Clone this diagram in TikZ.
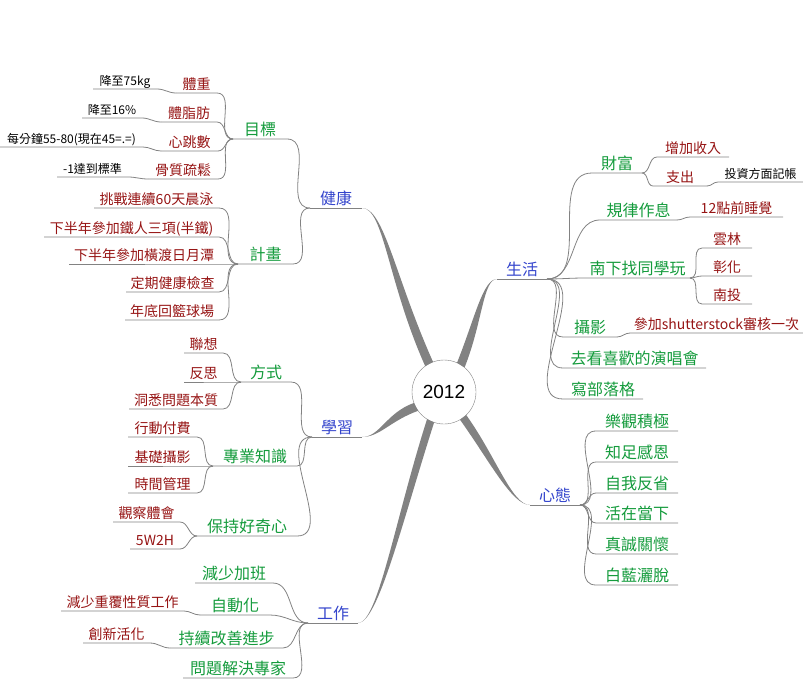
\documentclass[tikz,border=0pt]{standalone}
\usepackage{fontspec}
\newfontfamily\cjk{Noto Sans CJK TC}
\newfontfamily\numfont{Liberation Sans}
\definecolor{mapblue}{RGB}{51,68,204}
\definecolor{mapgreen}{RGB}{20,155,60}
\definecolor{mapred}{RGB}{150,20,20}
\definecolor{mapgray}{RGB}{130,130,130}

\begin{document}
\begin{tikzpicture}[x=1pt, y=-1pt,
    every node/.style={anchor=south west, inner xsep=0pt, inner ysep=1pt, text depth=3pt, outer sep=0pt},
    topic/.style={text=mapblue, font=\cjk\fontsize{16}{18}\selectfont},
    sub/.style={text=mapgreen, font=\cjk\fontsize{16}{18}\selectfont},
    item/.style={text=mapred, font=\cjk\fontsize{14}{16}\selectfont},
    note/.style={text=black, font=\cjk\fontsize{12}{14}\selectfont},
    link/.style={draw=mapgray, line width=0.8pt},
    branch/.style={fill=mapgray}]
                    \useasboundingbox (0,0) rectangle (803,680);

                    % Centre
                    \node[draw=mapgray, circle, fill=white, minimum size=64pt, inner sep=0pt, text depth=0pt, anchor=center, font=\numfont\fontsize{19}{21}\selectfont] (root) at (444,392) {2012};

                    % Main topics
                    \node[topic, minimum width=52pt] (health) at (310,208) {健康};
                    \node[topic, minimum width=50pt] (life) at (497,279) {生活};
                    \node[topic, minimum width=50pt] (study) at (312,437) {學習};
                    \node[topic, minimum width=50pt] (work) at (308,623) {工作};
                    \node[topic, minimum width=50pt] (mind) at (530,505) {心態};

                    % Health
                    \node[sub, minimum width=54pt] (goal) at (233,139) {目標};
                    \node[sub, minimum width=55pt] (plan) at (238,264) {計畫};
                    \node[item, minimum width=41pt] (weight) at (176,93) {體重};
                    \node[item, minimum width=56pt] (fat) at (161,122) {體脂肪};
                    \node[item, minimum width=57pt] (heart) at (161,151) {心跳數};
                    \node[item, minimum width=70pt] (bone) at (148,179) {骨質疏鬆};
                    \node[note, minimum width=64pt] (weightgoal) at (93,89) {降至75kg};
                    \node[note, minimum width=60pt] (fatgoal) at (82,118) {降至16\%};
                    \node[note, minimum width=143pt] (heartgoal) at (0,147) {每分鐘55-80(現在45=.=)};
                    \node[note, minimum width=71pt] (bonegoal) at (57,177) {-1達到標準};
                    \node[item, minimum width=125pt] (swim) at (94,208) {挑戰連續60天晨泳};
                    \node[item, minimum width=175pt] (triathlon) at (44,237) {下半年參加鐵人三項(半鐵)};
                    \node[item, minimum width=150pt] (lake) at (69,264) {下半年參加橫渡日月潭};
                    \node[item, minimum width=93pt] (checkup) at (126,292) {定期健康檢查};
                    \node[item, minimum width=94pt] (court) at (125,320) {年底回籃球場};

                    % Study
                    \node[sub, minimum width=50pt] (method) at (241,382) {方式};
                    \node[sub, minimum width=84pt] (skill) at (213,466) {專業知識};
                    \node[sub, minimum width=100pt] (curious) at (197,536) {保持好奇心};
                    \node[item, minimum width=39pt] (associate) at (184,353) {聯想};
                    \node[item, minimum width=39pt] (reflect) at (184,382) {反思};
                    \node[item, minimum width=94pt] (insight) at (129,409) {洞悉問題本質};
                    \node[item, minimum width=69pt] (paid) at (128,437) {行動付費};
                    \node[item, minimum width=69pt] (photobasic) at (128,466) {基礎攝影};
                    \node[item, minimum width=69pt] (timemgmt) at (128,493) {時間管理};
                    \node[item, minimum width=67pt] (observe) at (113,522) {觀察體會};
                    \node[item, minimum width=50pt] (fivew) at (130,549) {5W2H};

                    % Work
                    \node[sub, minimum width=78pt] (overtime) at (195,583) {減少加班};
                    \node[sub, minimum width=70pt] (automate) at (200,615) {自動化};
                    \node[sub, minimum width=113pt] (improve) at (170,648) {持續改善進步};
                    \node[sub, minimum width=110pt] (solver) at (183,678) {問題解決專家};
                    \node[item, minimum width=123pt] (repeat) at (61,611) {減少重覆性質工作};
                    \node[item, minimum width=67pt] (innovate) at (83,643) {創新活化};

                    % Life
                    \node[sub, minimum width=50pt] (wealth) at (592,173) {財富};
                    \node[sub, minimum width=77pt] (routine) at (600,220) {規律作息};
                    \node[sub, minimum width=105pt] (south) at (585,278) {南下找同學玩};
                    \node[sub, minimum width=54pt] (photo) at (563,337) {攝影};
                    \node[sub, minimum width=143pt] (concert) at (563,368) {去看喜歡的演唱會};
                    \node[sub, minimum width=80pt] (blog) at (563,399) {寫部落格};
                    \node[item, minimum width=72pt] (income) at (657,157) {增加收入};
                    \node[item, minimum width=54pt] (expense) at (653,186) {支出};
                    \node[note, minimum width=85pt] (invest) at (718,182) {投資方面記帳};
                    \node[item, minimum width=93pt] (sleep) at (690,217) {12點前睡覺};
                    \node[item, minimum width=50pt] (yunlin) at (702,248) {雲林};
                    \node[item, minimum width=50pt] (changhua) at (702,276) {彰化};
                    \node[item, minimum width=50pt] (nantou) at (702,304) {南投};
                    \node[item, minimum width=173pt] (stock) at (630,333) {參加shutterstock審核一次};

                    % Mind
                    \node[sub, minimum width=82pt] (optimism) at (596,431) {樂觀積極};
                    \node[sub, minimum width=82pt] (grateful) at (596,462) {知足感恩};
                    \node[sub, minimum width=82pt] (selfcheck) at (596,493) {自我反省};
                    \node[sub, minimum width=82pt] (present) at (596,523) {活在當下};
                    \node[sub, minimum width=82pt] (care) at (596,554) {真誠關懷};
                    \node[sub, minimum width=82pt] (carefree) at (596,585) {白藍灑脫};

                    % Thick branches from the centre
                    \fill[branch] (root.110) .. controls +(-38,-85) and +(22,0) .. (health.south east) .. controls +(22,0) and +(-38,-85) .. (root.126) -- cycle;
                    \fill[branch] (root.50) .. controls +(18,-45) and +(-14,0) .. (life.south west) .. controls +(-14,0) and +(18,-45) .. (root.66) -- cycle;
                    \fill[branch] (root.200) .. controls +(-28,10) and +(18,0) .. (study.south east) .. controls +(18,0) and +(-28,10) .. (root.216) -- cycle;
                    \fill[branch] (root.238) .. controls +(-32,100) and +(20,0) .. (work.south east) .. controls +(20,0) and +(-32,100) .. (root.252) -- cycle;
                    \fill[branch] (root.300) .. controls +(30,42) and +(-18,0) .. (mind.south west) .. controls +(-18,0) and +(30,42) .. (root.314) -- cycle;
                    \draw[link] (health.south west) -- (health.south east);
                    \draw[link] (life.south west) -- (life.south east);
                    \draw[link] (study.south west) -- (study.south east);
                    \draw[link] (work.south west) -- (work.south east);
                    \draw[link] (mind.south west) -- (mind.south east);

                    % Health links
                    \draw[link] (goal.south west) -- (goal.south east) to[out=0,in=180] (health.south west);
                    \draw[link] (plan.south west) -- (plan.south east) to[out=0,in=180] (health.south west);
                    \draw[link] (weight.south west) -- (weight.south east) to[out=0,in=180] (goal.south west);
                    \draw[link] (fat.south west) -- (fat.south east) to[out=0,in=180] (goal.south west);
                    \draw[link] (heart.south west) -- (heart.south east) to[out=0,in=180] (goal.south west);
                    \draw[link] (bone.south west) -- (bone.south east) to[out=0,in=180] (goal.south west);
                    \draw[link] (weightgoal.south west) -- (weightgoal.south east) to[out=0,in=180] (weight.south west);
                    \draw[link] (fatgoal.south west) -- (fatgoal.south east) to[out=0,in=180] (fat.south west);
                    \draw[link] (heartgoal.south west) -- (heartgoal.south east) to[out=0,in=180] (heart.south west);
                    \draw[link] (bonegoal.south west) -- (bonegoal.south east) to[out=0,in=180] (bone.south west);
                    \draw[link] (swim.south west) -- (swim.south east) to[out=0,in=180] (plan.south west);
                    \draw[link] (triathlon.south west) -- (triathlon.south east) to[out=0,in=180] (plan.south west);
                    \draw[link] (lake.south west) -- (lake.south east) to[out=0,in=180] (plan.south west);
                    \draw[link] (checkup.south west) -- (checkup.south east) to[out=0,in=180] (plan.south west);
                    \draw[link] (court.south west) -- (court.south east) to[out=0,in=180] (plan.south west);

                    % Study links
                    \draw[link] (method.south west) -- (method.south east) to[out=0,in=180] (study.south west);
                    \draw[link] (skill.south west) -- (skill.south east) to[out=0,in=180] (study.south west);
                    \draw[link] (curious.south west) -- (curious.south east) to[out=0,in=180] (study.south west);
                    \draw[link] (associate.south west) -- (associate.south east) to[out=0,in=180] (method.south west);
                    \draw[link] (reflect.south west) -- (reflect.south east) to[out=0,in=180] (method.south west);
                    \draw[link] (insight.south west) -- (insight.south east) to[out=0,in=180] (method.south west);
                    \draw[link] (paid.south west) -- (paid.south east) to[out=0,in=180] (skill.south west);
                    \draw[link] (photobasic.south west) -- (photobasic.south east) to[out=0,in=180] (skill.south west);
                    \draw[link] (timemgmt.south west) -- (timemgmt.south east) to[out=0,in=180] (skill.south west);
                    \draw[link] (observe.south west) -- (observe.south east) to[out=0,in=180] (curious.south west);
                    \draw[link] (fivew.south west) -- (fivew.south east) to[out=0,in=180] (curious.south west);

                    % Work links
                    \draw[link] (overtime.south west) -- (overtime.south east) to[out=0,in=180] (work.south west);
                    \draw[link] (automate.south west) -- (automate.south east) to[out=0,in=180] (work.south west);
                    \draw[link] (improve.south west) -- (improve.south east) to[out=0,in=180] (work.south west);
                    \draw[link] (solver.south west) -- (solver.south east) to[out=0,in=180] (work.south west);
                    \draw[link] (repeat.south west) -- (repeat.south east) to[out=0,in=180] (automate.south west);
                    \draw[link] (innovate.south west) -- (innovate.south east) to[out=0,in=180] (improve.south west);

                    % Life links
                    \draw[link] (life.south east) to[out=0,in=180] (wealth.south west) -- (wealth.south east);
                    \draw[link] (life.south east) to[out=0,in=180] (routine.south west) -- (routine.south east);
                    \draw[link] (life.south east) to[out=0,in=180] (south.south west) -- (south.south east);
                    \draw[link] (life.south east) to[out=0,in=180] (photo.south west) -- (photo.south east);
                    \draw[link] (life.south east) to[out=0,in=180] (concert.south west) -- (concert.south east);
                    \draw[link] (life.south east) to[out=0,in=180] (blog.south west) -- (blog.south east);
                    \draw[link] (wealth.south east) to[out=0,in=180] (income.south west) -- (income.south east);
                    \draw[link] (wealth.south east) to[out=0,in=180] (expense.south west) -- (expense.south east);
                    \draw[link] (expense.south east) to[out=0,in=180] (invest.south west) -- (invest.south east);
                    \draw[link] (routine.south east) to[out=0,in=180] (sleep.south west) -- (sleep.south east);
                    \draw[link] (south.south east) to[out=0,in=180] (yunlin.south west) -- (yunlin.south east);
                    \draw[link] (south.south east) to[out=0,in=180] (changhua.south west) -- (changhua.south east);
                    \draw[link] (south.south east) to[out=0,in=180] (nantou.south west) -- (nantou.south east);
                    \draw[link] (photo.south east) to[out=0,in=180] (stock.south west) -- (stock.south east);

                    % Mind links
                    \draw[link] (mind.south east) to[out=0,in=180] (optimism.south west) -- (optimism.south east);
                    \draw[link] (mind.south east) to[out=0,in=180] (grateful.south west) -- (grateful.south east);
                    \draw[link] (mind.south east) to[out=0,in=180] (selfcheck.south west) -- (selfcheck.south east);
                    \draw[link] (mind.south east) to[out=0,in=180] (present.south west) -- (present.south east);
                    \draw[link] (mind.south east) to[out=0,in=180] (care.south west) -- (care.south east);
                    \draw[link] (mind.south east) to[out=0,in=180] (carefree.south west) -- (carefree.south east);
                \end{tikzpicture}
\end{document}
